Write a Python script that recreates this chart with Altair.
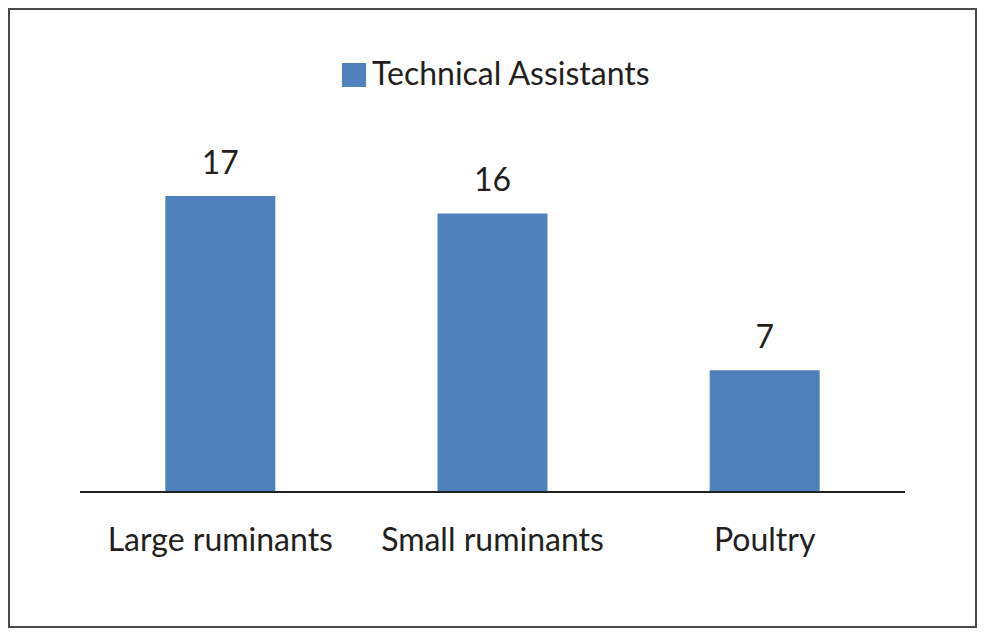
import altair as alt
import pandas as pd

categories = ["Large ruminants", "Small ruminants", "Poultry"]
values = [17, 16, 7]
series = "Technical Assistants"

df = pd.DataFrame({"category": categories, "value": values, "series": [series] * 3})

FONT = "Lato"
TXT = "#231f20"
BAR = "#4f81bd"
FS = 32

x = alt.X("category:N", sort=categories, axis=None,
          scale=alt.Scale(type="band", paddingInner=0, paddingOuter=0.28))
yscale = alt.Scale(domain=[-7.81, 27.8], nice=False, zero=False)

base = alt.Chart(df)

bars = base.mark_bar(size=110).encode(
    x=x,
    y=alt.Y("value:Q", scale=yscale, axis=None),
    y2=alt.Y2(datum=0),
    color=alt.Color("series:N", scale=alt.Scale(range=[BAR]),
                    legend=alt.Legend(title=None, orient="none", legendX=330, legendY=51,
                                      symbolType="square", symbolSize=576,
                                      symbolStrokeWidth=0, labelFontSize=FS,
                                      labelFont=FONT, labelColor=TXT, labelOffset=2,
                                      padding=0, labelLimit=400)),
)

value_labels = base.mark_text(fontSize=FS, font=FONT, color=TXT, baseline="alphabetic",
                              dy=-22).encode(
    x=x,
    y=alt.Y("value:Q", scale=yscale),
    text=alt.Text("value:Q"),
)

cat_labels = base.mark_text(fontSize=FS, font=FONT, color=TXT, baseline="alphabetic",
                            dy=59).encode(
    x=x,
    y=alt.Y(datum=0, scale=yscale),
    text="category:N",
)

baseline = base.mark_rule(color="#222222", strokeWidth=2).encode(
    x=alt.value(72), x2=alt.value(897),
    y=alt.Y(datum=0, scale=yscale),
)

chart = alt.layer(bars, baseline, value_labels, cat_labels).properties(
    width=969, height=620,
    autosize=alt.AutoSizeParams(type="fit", contains="padding"),
    padding=0,
    background="white",
).configure_view(stroke="#4a4a4a", strokeWidth=4)

chart.save("out.html", embed_options={"renderer": "svg", "actions": False})
